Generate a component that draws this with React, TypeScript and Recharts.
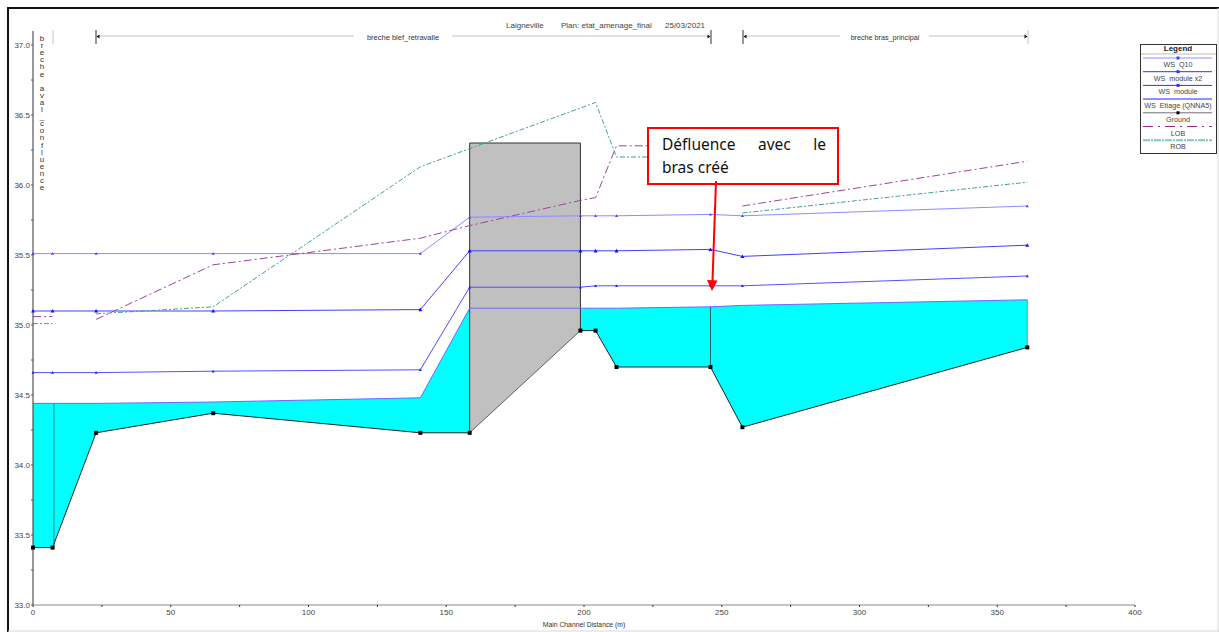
/**
 * Water surface profile (main channel distance vs elevation)
 * Ground, water levels, banks and the bridge block, with the reach markers and callout
 */

import { ComposedChart, Area, Line, XAxis, YAxis, ReferenceLine } from 'recharts';

const stations = [0, 7.1, 22.9, 65.4, 140.6, 158.5, 198.7, 204.2, 211.8, 245.9, 257.5, 360.9];
const ground = [33.41, 33.41, 34.23, 34.37, 34.23, 34.23, 34.96, 34.96, 34.7, 34.7, 34.27, 34.84];
const wsEtiage = [34.44, 34.44, 34.44, 34.45, 34.48, 35.12, 35.12, 35.12, 35.12, 35.13, 35.14, 35.18];
const wsModule = [34.66, 34.66, 34.66, 34.67, 34.68, 35.27, 35.27, 35.28, 35.28, 35.28, 35.28, 35.35];
const wsModuleX2 = [35.1, 35.1, 35.1, 35.1, 35.11, 35.53, 35.53, 35.53, 35.53, 35.54, 35.49, 35.57];
const wsQ10 = [35.51, 35.51, 35.51, 35.51, 35.51, 35.77, 35.78, 35.78, 35.78, 35.79, 35.78, 35.85];
const lob = [35.06, 35.06, 35.04, 35.43, 35.62, 35.71, 35.89, 35.91, 36.28, 36.28, 35.85, 36.17];
const rob = [35.01, 35.01, 35.08, 35.13, 36.13, 36.26, 36.55, 36.59, 36.2, 36.2, 35.8, 36.02];
const bridgeTop = 36.3;

const xTicks = [0, 25, 50, 75, 100, 125, 150, 175, 200, 225, 250, 275, 300, 325, 350, 375, 400];
const yTicks = [33, 33.25, 33.5, 33.75, 34, 34.25, 34.5, 34.75, 35, 35.25, 35.5, 35.75, 36, 36.25, 36.5, 36.75, 37];

const sideNote = 'breche aval_confluence';

const rows = stations.map((x, i) => ({
  x,
  ground: ground[i],
  water: [ground[i], wsEtiage[i]],
  bridge: [ground[i], bridgeTop],
  wsEtiage: wsEtiage[i],
  wsModule: wsModule[i],
  wsModuleX2: wsModuleX2[i],
  wsQ10: wsQ10[i],
  lob: lob[i],
  rob: rob[i],
}));

// the banks are drawn reach by reach, they do not join up
const reaches = [rows.slice(0, 2), rows.slice(2, 10), rows.slice(10)];

const legendItems = [
  { name: 'WS  Q10', color: '#c8c8ff', width: 2, dash: undefined, mark: '#4040ff' },
  { name: 'WS  module x2', color: '#3030ff', width: 1, dash: undefined, mark: '#3030ff' },
  { name: 'WS  module', color: '#3030ff', width: 1, dash: undefined, mark: '#3030ff' },
  { name: 'WS  Etiage (QNNA5)', color: '#9090ff', width: 2, dash: undefined, mark: undefined },
  { name: 'Ground', color: '#707070', width: 1, dash: undefined, mark: '#000000' },
  { name: 'LOB', color: '#9a2a9a', width: 1, dash: '10 5 2 5', mark: undefined },
  { name: 'ROB', color: '#80c8c0', width: 2, dash: '7 1 2 1', mark: undefined },
];

const smallFont = '"Liberation Sans", Arial, sans-serif';

const tickDot = (color: string, size = 1.5) => (props: any) => (
  <path
    key={props.index}
    d={`M${props.cx - size} ${props.cy + size * 0.8}L${props.cx} ${props.cy - size}L${props.cx + size} ${props.cy + size * 0.8}Z`}
    fill={color}
  />
);

const groundDot = (props: any) => (
  <rect key={props.index} x={props.cx - 2} y={props.cy - 2} width={4} height={4} fill="#000" />
);

function Overlay() {
  return (
    <svg width={1219} height={632} style={{ position: 'absolute', left: 0, top: 0, pointerEvents: 'none' }}>
      <defs>
        <clipPath id="titleClip">
          <rect x={490} y={23} width={240} height={10} />
        </clipPath>
      </defs>

      {/* picture frame */}
      <line x1={8} y1={8} x2={8} y2={632} stroke="#111" strokeWidth={2} />
      <line x1={7} y1={8} x2={1219} y2={8} stroke="#111" strokeWidth={2} />
      <line x1={1218} y1={8} x2={1218} y2={632} stroke="#d8d8d8" />
      <line x1={8} y1={631} x2={1219} y2={631} stroke="#d8d8d8" />

      {/* title, its top is cut off in the original */}
      <g fontFamily={smallFont} fontSize={8} fill="#444" clipPath="url(#titleClip)">
        <text x={506} y={28}>Laigneville</text>
        <text x={561} y={28}>Plan: etat_amenage_final</text>
        <text x={665} y={28}>25/03/2021</text>
      </g>

      {/* reach markers */}
      <g stroke="#c4c4c4" strokeWidth={1}>
        <line x1={98} y1={36} x2={354} y2={36} />
        <line x1={452} y1={36} x2={709} y2={36} />
        <line x1={745} y1={36} x2={840} y2={36} />
        <line x1={929} y1={36} x2={1026} y2={36} />
        <line x1={53} y1={30} x2={53} y2={44} />
        <line x1={1028} y1={30} x2={1028} y2={44} />
      </g>
      <g stroke="#333" strokeWidth={1}>
        <line x1={96} y1={30} x2={96} y2={44} />
        <line x1={711} y1={30} x2={711} y2={44} />
        <line x1={743} y1={30} x2={743} y2={44} />
      </g>
      <g fill="#111">
        <path d="M96.5 36.5l3 -2v4z" />
        <path d="M710.5 36.5l-3 -2v4z" />
        <path d="M743.5 36.5l3 -2v4z" />
        <path d="M1027.5 36.5l-3 -2v4z" />
      </g>
      <g fontFamily={smallFont} fill="#333">
        <text x={403} y={40} textAnchor="middle" fontSize={7.5}>breche bief_retravalle</text>
        <text x={885} y={40} textAnchor="middle" fontSize={7.2}>breche bras_principal</text>
        <text x={584} y={627} textAnchor="middle" fontSize={6.8}>Main Channel Distance (m)</text>
        <text textAnchor="middle" fontSize={8}>
          {sideNote.split('').map((c, i) => (
            <tspan key={i} x={42} y={41 + i * 7.1}>{c === ' ' ? '\u00a0' : c}</tspan>
          ))}
        </text>
      </g>

      {/* legend */}
      <rect x={1140.5} y={44.5} width={76} height={109} fill="#fff" stroke="#333" />
      <text x={1178} y={51} textAnchor="middle" fontFamily={smallFont} fontSize={8} fontWeight="bold" fill="#222">Legend</text>
      <line x1={1141} y1={54} x2={1216} y2={54} stroke="#bbb" />
      {legendItems.map((item, i) => {
        const y = 58 + i * 13.7;
        return (
          <g key={item.name}>
            <line x1={1143} y1={y} x2={1212} y2={y} stroke={item.color} strokeWidth={item.width} strokeDasharray={item.dash} />
            {item.mark && <rect x={1176.5} y={y - 1.5} width={3} height={3} fill={item.mark} />}
            <text x={1178} y={y + 9} textAnchor="middle" fontFamily={smallFont} fontSize={7.2} fill="#444" style={{ whiteSpace: 'pre' }}>
              {item.name}
            </text>
          </g>
        );
      })}

      {/* callout */}
      <rect x={648} y={128} width={190} height={56} fill="#fff" stroke="#f00" strokeWidth={2} />
      <line x1={716} y1={181} x2={712.5} y2={281} stroke="#f00" strokeWidth={2} />
      <path d="M707 280L717.5 280.5L712 291Z" fill="#f00" />
    </svg>
  );
}

export default function App() {
  return (
    <div style={{ position: 'absolute', left: 0, top: 0, width: 1219, height: 632, background: '#fff' }}>
      <ComposedChart
        width={1219}
        height={632}
        data={rows}
        margin={{ top: 31, right: 84, bottom: 0, left: 0 }}
      >
        <XAxis
          dataKey="x"
          type="number"
          domain={[0, 400]}
          ticks={xTicks}
          interval={0}
          height={27}
          stroke="#c4c4c4"
          strokeWidth={2}
          tickSize={2}
          tickMargin={2}
          tickLine={{ stroke: '#333', strokeWidth: 1 }}
          tick={{ fontSize: 8, fontFamily: smallFont, fill: '#444' }}
          tickFormatter={(v: number) => (v % 50 === 0 ? String(v) : '')}
        />
        <YAxis
          type="number"
          domain={[33, 37.1]}
          ticks={yTicks}
          interval={0}
          width={33}
          stroke="#333"
          tickSize={2}
          tickMargin={1}
          tickLine={{ stroke: '#555', strokeWidth: 1 }}
          tick={{ fontSize: 8, fontFamily: smallFont, fill: '#444' }}
          tickFormatter={(v: number) => (v % 0.5 === 0 ? v.toFixed(1) : '')}
        />

        <Area dataKey="water" type="linear" fill="#00ffff" fillOpacity={1} stroke="none" isAnimationActive={false} />
        <Area
          data={rows.slice(5, 7)}
          dataKey="bridge"
          type="linear"
          fill="#c0c0c0"
          fillOpacity={1}
          stroke="none"
          isAnimationActive={false}
        />

        <ReferenceLine segment={[{ x: 7.6, y: 33.41 }, { x: 7.6, y: 34.44 }]} stroke="#2a8a8a" />
        <ReferenceLine segment={[{ x: 245.9, y: 34.7 }, { x: 245.9, y: 35.13 }]} stroke="#1a5a5a" />
        <ReferenceLine segment={[{ x: 360.9, y: 34.84 }, { x: 360.9, y: 35.18 }]} stroke="#7a9a9a" />
        <ReferenceLine segment={[{ x: 158.5, y: 34.23 }, { x: 158.5, y: bridgeTop }]} stroke="#333" />
        <ReferenceLine segment={[{ x: 158.5, y: bridgeTop }, { x: 198.7, y: bridgeTop }]} stroke="#333" />
        <ReferenceLine segment={[{ x: 198.7, y: 34.96 }, { x: 198.7, y: bridgeTop }]} stroke="#333" />

        {/* the ground is fainter where it runs under the bridge */}
        <Line data={rows.slice(5, 7)} dataKey="ground" type="linear" stroke="#666" strokeWidth={1} dot={false} isAnimationActive={false} />
        <Line data={rows.slice(0, 6)} dataKey="ground" type="linear" stroke="#222" strokeWidth={1} dot={groundDot} isAnimationActive={false} />
        <Line data={rows.slice(6)} dataKey="ground" type="linear" stroke="#222" strokeWidth={1} dot={groundDot} isAnimationActive={false} />

        <Line dataKey="wsEtiage" type="linear" stroke="#6a6aff" strokeWidth={1} dot={false} isAnimationActive={false} />
        <Line dataKey="wsModule" type="linear" stroke="#5050ff" strokeWidth={1} dot={tickDot('#2020ff')} isAnimationActive={false} />
        <Line dataKey="wsModuleX2" type="linear" stroke="#4040ff" strokeWidth={1} dot={tickDot('#1010ff', 2)} isAnimationActive={false} />
        <Line dataKey="wsQ10" type="linear" stroke="#8c8cff" strokeWidth={1} dot={tickDot('#4040ff')} isAnimationActive={false} />

        {reaches.map((reach, i) => (
          <Line
            key={`lob-${i}`}
            data={reach}
            dataKey="lob"
            type="linear"
            stroke="#a040a0"
            strokeWidth={1}
            strokeDasharray="8 3 2 3"
            dot={false}
            isAnimationActive={false}
          />
        ))}
        {reaches.map((reach, i) => (
          <Line
            key={`rob-${i}`}
            data={reach}
            dataKey="rob"
            type="linear"
            stroke="#40a098"
            strokeWidth={1}
            strokeDasharray="5 2 2 2"
            dot={false}
            isAnimationActive={false}
          />
        ))}
      </ComposedChart>

      <Overlay />

      <div
        style={{
          position: 'absolute',
          left: 662,
          top: 133,
          width: 164,
          fontFamily: '"Noto Sans", sans-serif',
          fontSize: 15.5,
          lineHeight: '23px',
          color: '#111',
        }}
      >
        <div style={{ textAlign: 'justify', textAlignLast: 'justify' }}>Défluence avec le</div>
        <div>bras créé</div>
      </div>
    </div>
  );
}
